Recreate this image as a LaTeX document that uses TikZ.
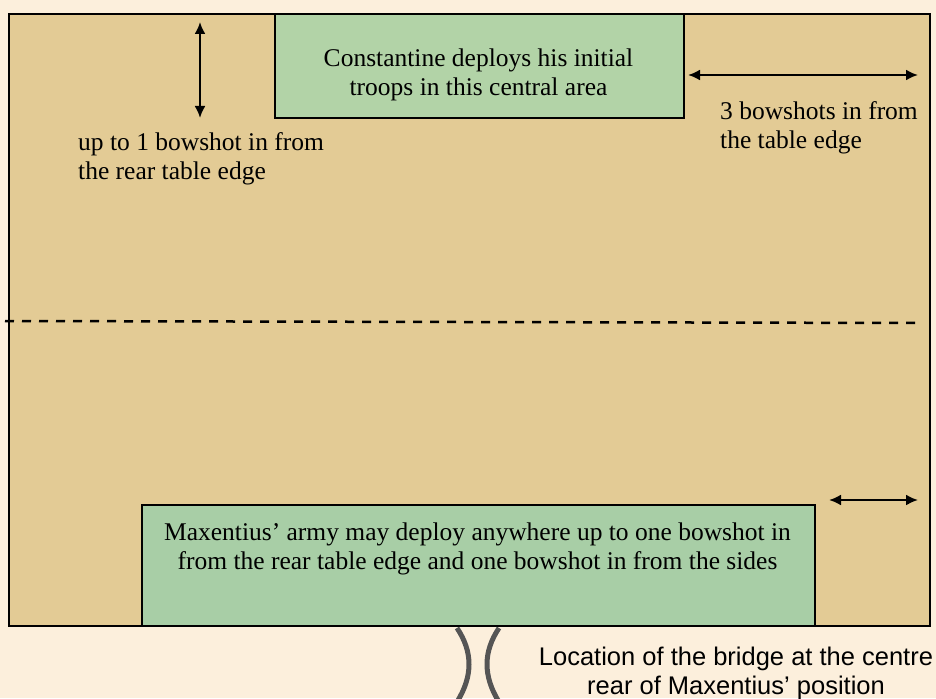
\documentclass[tikz,border=0pt]{standalone}
\usepackage{fontspec}
\setmainfont{Liberation Serif}
\newfontfamily\bridgefont{Liberation Sans}
\usetikzlibrary{arrows.meta,positioning}
\definecolor{paper}{RGB}{252,239,220}
\definecolor{tabletan}{RGB}{227,203,149}
\definecolor{frontgreen}{RGB}{178,211,167}
\definecolor{reargreen}{RGB}{168,206,166}
\definecolor{bridgegray}{RGB}{85,85,85}
\tikzset{
    every node/.style={font=\fontsize{25.5}{29}\selectfont},
}

\begin{document}
\begin{tikzpicture}[x=1pt,y=-1pt,
        board/.style={draw,line width=2pt,fill=tabletan,inner sep=0pt,anchor=north west},
        zone/.style={draw,line width=2pt,inner sep=0pt,anchor=north west},
        note/.style={align=left,inner sep=0pt},
        span/.style={{Latex[length=12pt,width=11pt]}-{Latex[length=12pt,width=11pt]},line width=2.2pt},
        bridge/.style={bridgegray,line width=5pt}
    ]
    \useasboundingbox (0,0) rectangle (936,698);
    \fill[paper] (0,0) rectangle (936,698);

    % the table
    \node[board,minimum width=921pt,minimum height=612pt] (table) at (8,13) {};

    % centre line of the table
    \coordinate (mid-l) at (5,321);
    \coordinate (mid-r) at (922,323);
    \draw[line width=2.5pt,dash pattern=on 9pt off 8pt] (mid-l) -- (mid-r);

    % Constantine at the top
    \node[zone,fill=frontgreen,minimum width=409pt,minimum height=104pt] (front) at (274,13) {};
    \node[align=center,inner sep=0pt] (fronttxt) at (478.5,75) {Constantine deploys his initial\\troops in this central area};

    % Maxentius at the bottom
    \node[zone,fill=reargreen,minimum width=673pt,minimum height=121pt] (rear) at (141,504) {};
    \node[align=center,inner sep=0pt] (reartxt) at (477.5,549) {Maxentius’ army may deploy anywhere up to one bowshot in\\from the rear table edge and one bowshot in from the sides};

    % distances
    \coordinate (up-a) at (200,22);
    \coordinate (up-b) at (200,118);
    \draw[span] (up-a) -- (up-b);
    \node[note,anchor=north west] (uptxt) at (78,132) {up to 1 bowshot in from\\the rear table edge};

    \coordinate (side-a) at (688,75);
    \coordinate (side-b) at (918,75);
    \draw[span] (side-a) -- (side-b);
    \node[note,anchor=north west] (sidetxt) at (720,101) {3 bowshots in from\\the table edge};

    \coordinate (low-a) at (829,500);
    \coordinate (low-b) at (918,500);
    \draw[span] (low-a) -- (low-b);

    % the bridge
    \draw[bridge] (457,628) .. controls (473,652) and (473,676) .. (457,702);
    \draw[bridge] (499,628) .. controls (483,652) and (483,676) .. (499,702);
    \node[align=center,inner sep=0pt,font=\bridgefont\fontsize{25.5}{29}\selectfont] (bridgetxt) at (736,673) {Location of the bridge at the centre\\rear of Maxentius’ position};
\end{tikzpicture}
\end{document}
